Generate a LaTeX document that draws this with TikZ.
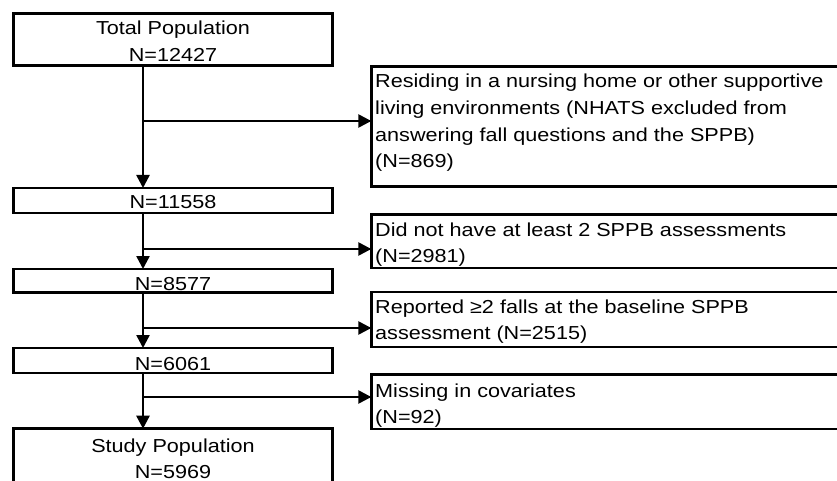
\documentclass[tikz,border=0pt]{standalone}
\usepackage{fontspec}
\setmainfont{Liberation Sans}[FakeStretch=1.15]
\usetikzlibrary{arrows.meta}
\begin{document}
\begin{tikzpicture}[x=1pt,y=-1pt,
  box/.style={draw, line width=2.9pt, inner sep=0pt, outer sep=0pt, anchor=north west},
  arr/.style={line width=2.5pt, -{Triangle[length=13pt,width=13pt]}},
  txt/.style={inner sep=0pt, anchor=base west, font=\fontsize{18.8pt}{26.6pt}\selectfont},
  ctxt/.style={txt, anchor=base}]
\useasboundingbox (0,0) rectangle (837,481);
\clip (0,0) rectangle (837,481);
% boxes
\node[box, minimum width=319pt, minimum height=52pt]   (b0) at (13.5,13.5) {};
\node[box, minimum width=480pt, minimum height=120pt]  (r1) at (371.3,66.3) {};
\node[box, minimum width=319pt, minimum height=25pt]   (b1) at (13.5,188) {};
\node[box, minimum width=480pt, minimum height=53.3pt] (r2) at (371.3,214.7) {};
\node[box, minimum width=319pt, minimum height=23.3pt] (b2) at (13.5,269) {};
\node[box, minimum width=480pt, minimum height=55pt]   (r3) at (371.3,292) {};
\node[box, minimum width=319pt, minimum height=25pt]   (b3) at (13.5,348) {};
\node[box, minimum width=480pt, minimum height=54.3pt] (r4) at (371.3,374.7) {};
\node[box, minimum width=319pt, minimum height=80pt]   (b4) at (13.5,428.7) {};
% texts
\node[ctxt] (t0) at (173,35) {\parbox[t]{300pt}{\centering Total Population\\N=12427}};
\node[txt] (t1) at (375,88) {\parbox[t]{460pt}{Residing in a nursing home or other supportive\\living environments (NHATS excluded from\\answering fall questions and the SPPB)\\(N=869)}};
\node[ctxt] (t2) at (173,208.3) {N=11558};
\node[txt] (t3) at (375,236) {\parbox[t]{460pt}{Did not have at least 2 SPPB assessments\\(N=2981)}};
\node[ctxt] (t4) at (173,290) {N=8577};
\node[txt] (t5) at (375,313) {\parbox[t]{460pt}{Reported ≥2 falls at the baseline SPPB\\assessment (N=2515)}};
\node[ctxt] (t6) at (173,370) {N=6061};
\node[txt] (t7) at (375,397) {\parbox[t]{460pt}{Missing in covariates\\(N=92)}};
\node[ctxt] (t8) at (173,452) {\parbox[t]{300pt}{\centering Study Population\\N=5969}};
% branch points
\coordinate (c1) at (143,121);
\coordinate (c2) at (143,249);
\coordinate (c3) at (143,328);
\coordinate (c4) at (143,397);
% connectors
\draw[arr] (b0.south -| c1) -- (b1.north -| c1);
\draw[arr] (c1) -- (r1.west |- c1);
\draw[arr] (b1.south -| c2) -- (b2.north -| c2);
\draw[arr] (c2) -- (r2.west |- c2);
\draw[arr] (b2.south -| c3) -- (b3.north -| c3);
\draw[arr] (c3) -- (r3.west |- c3);
\draw[arr] (b3.south -| c4) -- (b4.north -| c4);
\draw[arr] (c4) -- (r4.west |- c4);
\end{tikzpicture}
\end{document}
